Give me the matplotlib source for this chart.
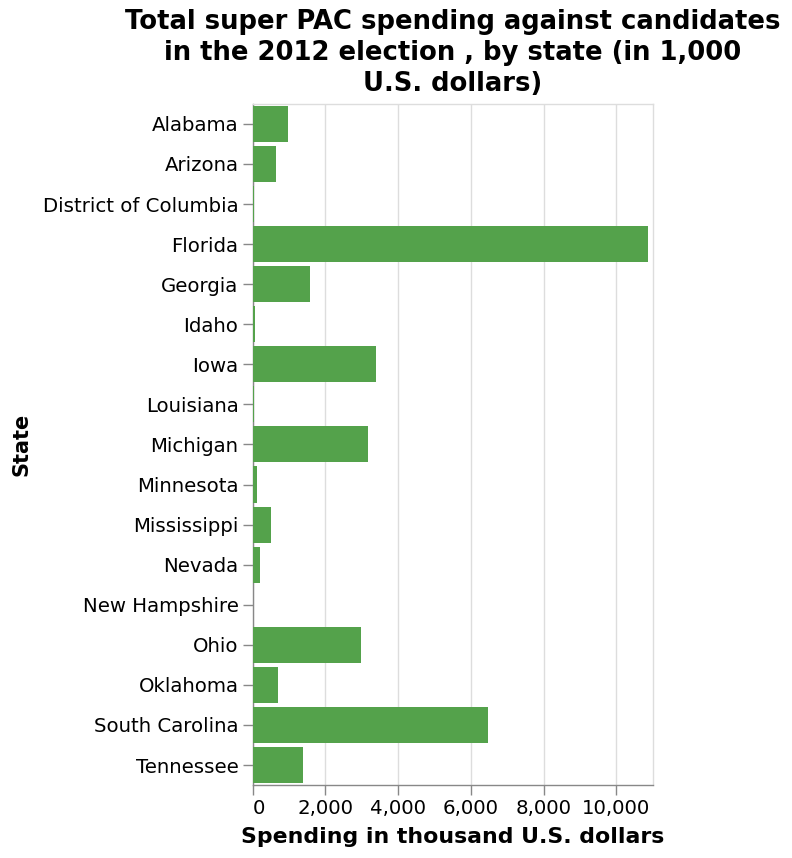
import matplotlib.pyplot as plt
import numpy as np

# data (thousand U.S. dollars)
states = ["Alabama", "Arizona", "District of Columbia", "Florida", "Georgia",
          "Idaho", "Iowa", "Louisiana", "Michigan", "Minnesota", "Mississippi",
          "Nevada", "New Hampshire", "Ohio", "Oklahoma", "South Carolina",
          "Tennessee"]
spending = [980, 640, 30, 10870, 1580, 55, 3380, 30, 3180, 110, 495,
            190, 5, 2975, 685, 6470, 1380]
xticks = [0, 2000, 4000, 6000, 8000, 10000]

plt.rcParams['font.family'] = 'DejaVu Sans'

fig = plt.figure(figsize=(7.92, 8.58), dpi=100)
ax = fig.add_axes([0.319, 0.085, 0.505, 0.794])

y = np.arange(len(states))
ax.barh(y, spending, height=0.9, color="#54a24b", zorder=3)

ax.set_xlim(0, 11000)
ax.set_ylim(len(states) - 0.5, -0.5)
ax.set_yticks(y)
ax.set_yticklabels(states)
ax.set_xticks(xticks)
ax.set_xticklabels([f"{v:,}" for v in xticks])
# first label flush with the axis start
ax.get_xticklabels()[0].set_horizontalalignment("left")

ax.grid(axis="x", color="#dddddd", linewidth=1, zorder=0)
ax.set_axisbelow(True)
for side in ["top", "right"]:
    ax.spines[side].set_color("#dddddd")
ax.spines["left"].set_color("#888888")
ax.spines["bottom"].set_color("#888888")
for sp in ax.spines.values():
    sp.set_linewidth(1)
ax.tick_params(axis="both", colors="#888888", length=7, width=1,
               labelcolor="black", labelsize=14.2, pad=3.2)

ax.set_xlabel("Spending in thousand U.S. dollars", fontsize=15.8,
              fontweight="bold", labelpad=6)
ax.set_ylabel("State", fontsize=15, fontweight="bold", labelpad=8)
ax.set_title("Total super PAC spending against candidates\n"
             "in the 2012 election , by state (in 1,000\nU.S. dollars)",
             fontsize=18.6, fontweight="bold", pad=9, linespacing=1.25)

fig.savefig("out.png", dpi=100)
